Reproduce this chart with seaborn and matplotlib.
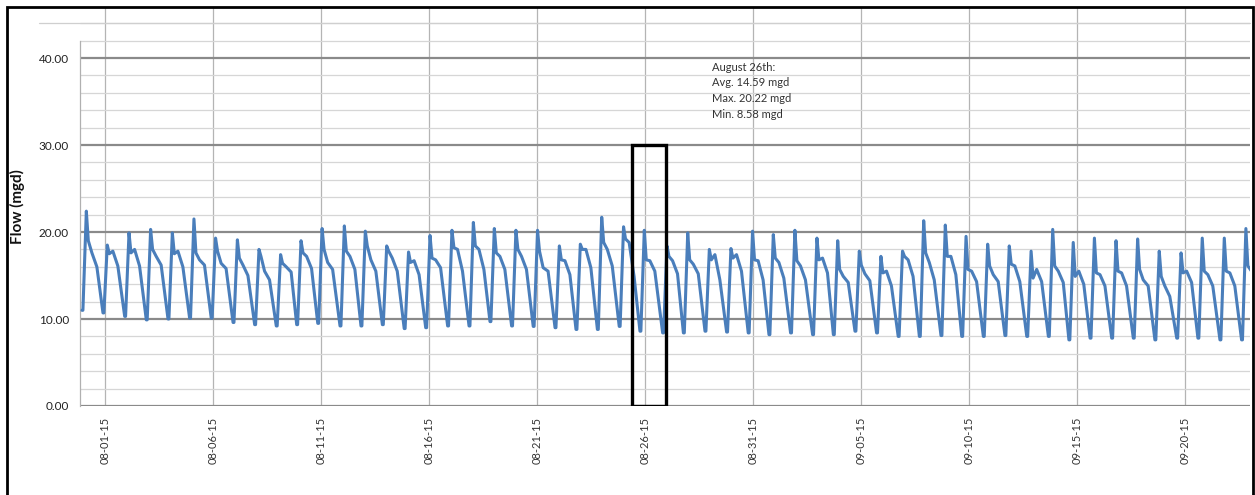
import numpy as np
import pandas as pd
import matplotlib
matplotlib.use("Agg")
import matplotlib.pyplot as plt
import matplotlib.dates as mdates
from matplotlib.patches import Rectangle
from matplotlib.ticker import MultipleLocator, FormatStrFormatter
import seaborn as sns

# --- data --------------------------------------------------------------------
# each daily cycle starts at its night-time minimum; start given in days after 2015-08-01
cycle_start = [-1.05, -0.08, 0.925, 1.925, 2.93, 3.93, 4.93, 5.94, 6.94, 7.94,
               8.885, 9.86, 10.89, 11.86, 12.85, 13.86, 14.855, 15.87, 16.86, 17.83,
               18.83, 19.83, 20.84, 21.81, 22.80, 23.81, 24.77, 25.82, 26.78, 27.78,
               28.78, 29.78, 30.74, 31.74, 32.76, 33.72, 34.72, 35.72, 36.72, 37.70,
               38.70, 39.66, 40.66, 41.66, 42.67, 43.67, 44.62, 45.60, 46.60, 47.60,
               48.60, 49.61, 50.59, 51.61, 52.61]
# hours after the minimum: trough start, trough end, morning peak, post-peak, bump, shoulder
cycle_hours = [0.0, 1.0, 4.8, 7.0, 11.0, 16.5]

flow_min = [11.0, 10.7, 10.3, 9.9, 10.0, 10.1, 10.1, 9.6, 9.35, 9.2,
            9.35, 9.5, 9.2, 9.2, 9.35, 8.9, 9.0, 9.2, 9.2, 9.7,
            9.2, 9.15, 9.0, 8.8, 8.8, 9.15, 8.6, 8.4, 8.4, 8.6,
            8.5, 8.4, 8.2, 8.4, 8.2, 8.2, 8.6, 8.4, 8.0, 8.0,
            8.1, 8.0, 8.0, 8.1, 8.0, 8.0, 7.6, 7.8, 7.8, 7.8,
            7.6, 7.8, 7.8, 7.6, 7.6]
flow_peak = [22.4, 18.5, 19.9, 20.3, 19.9, 21.5, 19.3, 19.1, 18.0, 17.4,
             19.0, 20.4, 20.7, 20.1, 18.4, 17.7, 19.6, 20.2, 21.1, 20.4,
             20.2, 20.2, 18.4, 18.6, 21.7, 20.6, 20.2, 18.4, 19.9, 18.0,
             18.1, 20.1, 19.7, 20.2, 19.3, 19.0, 17.8, 17.2, 17.8, 21.3,
             20.8, 19.5, 18.6, 18.4, 17.8, 20.3, 18.8, 19.3, 19.0, 19.2,
             17.8, 17.6, 19.3, 19.3, 20.4]
flow_post = [19.0, 17.5, 17.6, 18.0, 17.5, 17.6, 17.8, 17.0, 17.2, 16.4,
             17.6, 18.0, 17.8, 18.4, 17.8, 16.5, 17.0, 18.2, 18.4, 17.6,
             18.0, 17.8, 16.8, 18.0, 18.8, 19.2, 16.8, 17.2, 16.8, 16.8,
             17.0, 16.8, 17.0, 16.7, 16.8, 15.7, 16.2, 15.3, 17.2, 17.6,
             17.2, 15.7, 16.1, 16.3, 14.7, 16.1, 14.9, 15.3, 15.5, 15.7,
             14.9, 15.3, 15.5, 15.5, 16.1]
flow_bump = [17.6, 17.8, 18.0, 17.2, 17.8, 16.8, 16.4, 16.2, 15.5, 16.0,
             17.2, 16.5, 17.2, 16.8, 17.0, 16.7, 16.8, 18.0, 18.0, 17.2,
             17.2, 15.9, 16.7, 18.0, 18.0, 18.8, 16.7, 16.7, 16.3, 17.4,
             17.4, 16.7, 16.5, 16.1, 17.0, 14.9, 15.2, 15.5, 16.8, 16.5,
             17.2, 15.5, 15.1, 16.1, 15.7, 15.5, 15.5, 15.1, 15.3, 14.5,
             13.8, 15.5, 15.1, 15.3, 15.5]
flow_shoulder = [16.0, 16.1, 16.1, 16.2, 16.0, 16.2, 15.8, 15.0, 14.5, 15.4,
                 15.8, 15.7, 15.7, 15.5, 15.5, 15.1, 15.9, 15.5, 15.7, 15.7,
                 15.7, 15.5, 15.1, 15.9, 16.1, 14.9, 15.5, 15.2, 15.2, 14.5,
                 15.5, 14.5, 14.7, 14.5, 15.3, 14.2, 14.4, 13.8, 14.9, 14.5,
                 15.1, 14.3, 14.3, 14.3, 14.3, 14.2, 14.0, 13.8, 13.8, 13.8,
                 12.6, 14.2, 13.8, 13.8, 14.2]

tick_dates = pd.date_range("2015-08-01", "2015-09-20", freq="5D")
highlight_start = "2015-08-25 09:20"
highlight_end = "2015-08-26 23:00"
note_lines = ["August 26th:", "Avg. 14.59 mgd", "Max. 20.22 mgd", "Min. 8.58 mgd"]

# --- assemble the series -----------------------------------------------------
base = pd.Timestamp("2015-08-01")
rows = []
for i, start in enumerate(cycle_start):
    vals = [flow_min[i], flow_min[i], flow_peak[i], flow_post[i], flow_bump[i], flow_shoulder[i]]
    for h, v in zip(cycle_hours, vals):
        rows.append({"time": base + pd.Timedelta(days=start) + pd.Timedelta(hours=h), "flow": v})
df = pd.DataFrame(rows)

sns.set_style("white")
plt.rcParams["font.family"] = ["Lato", "DejaVu Sans"]

fig = plt.figure(figsize=(12.55, 4.95), dpi=100)
ax = fig.add_axes([80 / 1255, 1 - 406 / 495, (1250 - 80) / 1255, (406 - 8) / 495])

sns.lineplot(data=df, x="time", y="flow", ax=ax, color="#4a7ebb", linewidth=2.2,
             estimator=None, sort=False, zorder=3)

ax.set_xlim(base - pd.Timedelta(days=1.143), base + pd.Timedelta(days=53.0))
ax.set_ylim(0, 45.75)

ax.set_xticks(tick_dates)
ax.xaxis.set_major_formatter(mdates.DateFormatter("%m-%d-%y"))
ax.set_yticks([0, 10, 20, 30, 40])
ax.yaxis.set_major_formatter(FormatStrFormatter("%.2f"))
ax.yaxis.set_minor_locator(MultipleLocator(2))

ax.grid(which="major", axis="y", color="#8a8a8a", linewidth=1.6, zorder=1)
ax.grid(which="minor", axis="y", color="#d6d6d6", linewidth=0.9, zorder=1)
ax.grid(which="major", axis="x", color="#b4b4b4", linewidth=0.9, zorder=1)
ax.set_axisbelow(True)

for side in ("top", "right", "bottom"):
    ax.spines[side].set_visible(False)
ax.spines["left"].set_color("#b0b0b0")
ax.spines["left"].set_linewidth(0.9)
ax.spines["left"].set_bounds(0, 42)

ax.tick_params(axis="y", which="major", length=5, color="#9a9a9a", labelsize=8.5,
               labelcolor="#222222", pad=3)
ax.tick_params(axis="y", which="minor", length=0)
ax.tick_params(axis="x", length=0, labelsize=8, labelcolor="#333333", pad=8)
plt.setp(ax.get_xticklabels(), rotation=90, ha="center", va="top")

ax.set_xlabel("")
ax.set_ylabel("Flow (mgd)", fontsize=11, fontweight="bold", labelpad=10, color="#111111")

# top gridline reaches past the axis on the left
ax.plot([-0.035, 1.0], [44, 44], transform=ax.get_yaxis_transform(), color="#cfcfcf",
        linewidth=0.9, clip_on=False, zorder=1)

# highlighted day
x0 = mdates.date2num(pd.Timestamp(highlight_start))
x1 = mdates.date2num(pd.Timestamp(highlight_end))
ax.add_patch(Rectangle((x0, 0), x1 - x0, 30, fill=False, edgecolor="black",
                       linewidth=2.4, zorder=4))
ax.text(pd.Timestamp("2015-08-29 02:00"), 39.6, "\n".join(note_lines), fontsize=8,
        color="#333333", va="top", ha="left", linespacing=1.55)

# outer frame
fig.patches.append(Rectangle((7 / 1255, -0.02), (1253 - 7) / 1255, 1 - 7 / 495 + 0.02,
                             transform=fig.transFigure, fill=False, edgecolor="black",
                             linewidth=2.0))

fig.savefig("out.png", dpi=100)
